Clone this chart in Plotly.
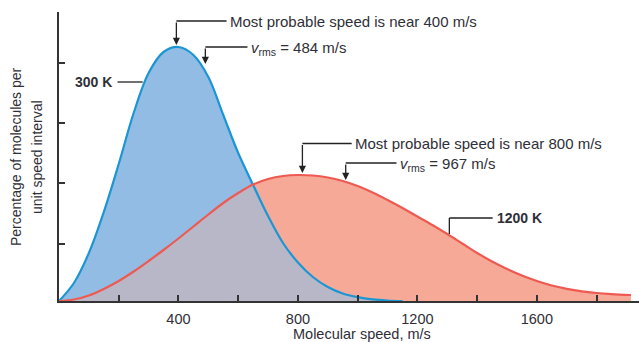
import numpy as np
import plotly.graph_objects as go

# ---- data (arbitrary percentage units) ----
speed_300 = [0, 50, 100, 150, 200, 250, 300, 350, 400, 450, 500, 550, 600, 650,
             700, 750, 800, 850, 900, 950, 1000, 1050, 1100, 1150]
pct_300 = [0, 18, 48, 89, 137, 188, 228, 249, 254, 246, 224, 186, 148, 116,
           85, 58, 38.5, 24, 14, 7.5, 3.8, 1.6, 0.5, 0]

speed_1200 = [0, 50, 100, 150, 200, 250, 300, 350, 400, 450, 500, 550, 600, 650,
              700, 750, 800, 850, 900, 950, 1000, 1050, 1100, 1150, 1200, 1250,
              1300, 1350, 1400, 1450, 1500, 1550, 1600, 1650, 1700, 1750, 1800,
              1850, 1915]
pct_1200 = [0, 1.5, 5.5, 12, 20, 29.5, 40, 51, 62.5, 74.5, 86.5, 98, 108, 116.5,
            122, 125, 126, 125.5, 123.5, 120, 115, 108.5, 101, 93, 84.5, 76,
            67, 57.5, 48, 39.5, 32, 25.5, 20, 15.5, 12.2, 9.7, 8,
            6.9, 6]

x_tick_vals = [200, 400, 600, 800, 1000, 1200, 1400, 1600, 1800]
x_tick_text = ["", "400", "", "800", "", "1200", "", "1600", ""]
y_tick_vals = [57, 118, 178, 238.5]

# overlap region = lower of the two curves
sp = np.array(speed_1200, dtype=float)
blue_on_grid = np.interp(sp, speed_300, pct_300, right=0.0)
overlap = np.minimum(blue_on_grid, np.array(pct_1200, dtype=float))

FONT = "Liberation Sans, Arial, sans-serif"
TXT = "#2f2f38"
BLUE_FILL = "#93bce4"
BLUE_LINE = "#1c96d3"
RED_FILL = "#f6a996"
RED_LINE = "#ee5a52"
GRAY_FILL = "#b8b7c8"

fig = go.Figure()
fig.add_trace(go.Scatter(x=speed_1200, y=pct_1200, mode="lines", fill="tozeroy",
                         fillcolor=RED_FILL, line=dict(width=0, shape="spline"),
                         hoverinfo="skip"))
fig.add_trace(go.Scatter(x=speed_300, y=pct_300, mode="lines", fill="tozeroy",
                         fillcolor=BLUE_FILL, line=dict(width=0, shape="spline"),
                         hoverinfo="skip"))
fig.add_trace(go.Scatter(x=speed_1200, y=overlap, mode="lines", fill="tozeroy",
                         fillcolor=GRAY_FILL, line=dict(width=0, shape="spline"),
                         hoverinfo="skip"))
fig.add_trace(go.Scatter(x=speed_300, y=pct_300, mode="lines",
                         line=dict(width=2.2, color=BLUE_LINE, shape="spline")))
fig.add_trace(go.Scatter(x=speed_1200, y=pct_1200, mode="lines",
                         line=dict(width=2.2, color=RED_LINE, shape="spline")))

LC = "#222222"
shapes = []
annotations = []


def hline(x0, x1, y):
    shapes.append(dict(type="line", xref="x", yref="y", x0=x0, x1=x1, y0=y, y1=y,
                       line=dict(color=LC, width=1.3)))


def vline(x, y0, y1):
    shapes.append(dict(type="line", xref="x", yref="y", x0=x, x1=x, y0=y0, y1=y1,
                       line=dict(color=LC, width=1.3)))


def arrow_down(x, y_from, y_to):
    annotations.append(dict(x=x, y=y_to, ax=x, ay=y_from, axref="x", ayref="y",
                            xref="x", yref="y", text="", showarrow=True,
                            arrowhead=2, arrowsize=1.1, arrowwidth=1.3,
                            arrowcolor=LC, standoff=0, startstandoff=0))


def label(x, y, text, anchor="left", size=15, bold=False):
    annotations.append(dict(x=x, y=y, xref="x", yref="y", text=("<b>%s</b>" % text) if bold else text,
                            showarrow=False, xanchor=anchor, yanchor="middle",
                            font=dict(family=FONT, size=size, color=TXT)))


# 300 K group
hline(393, 561, 280)
arrow_down(393, 280, 256)
label(565, 280, "Most probable speed is near 400 m/s")
hline(490, 631, 254)
arrow_down(490, 254, 237)
label(637, 253, "<i>v</i><sub>rms</sub> = 484 m/s")
hline(196, 280, 219)
label(184, 219, "300 K", anchor="right", size=14, bold=True)

# 1200 K group
hline(815, 980, 157.5)
arrow_down(815, 157.5, 128)
label(984, 157.5, "Most probable speed is near 800 m/s")
hline(960, 1130, 138)
arrow_down(960, 138, 121)
label(1134, 137, "<i>v</i><sub>rms</sub> = 967 m/s")
hline(1307, 1452, 83)
vline(1307, 83, 67)
label(1460, 83, "1200 K", size=14, bold=True)

# axis titles
annotations.append(dict(xref="paper", yref="y", x=0, y=144, xshift=-43,
                        text="Percentage of molecules per", textangle=-90,
                        showarrow=False, xanchor="center", yanchor="middle",
                        font=dict(family=FONT, size=14, color=TXT)))
annotations.append(dict(xref="paper", yref="y", x=0, y=144, xshift=-22,
                        text="unit speed interval", textangle=-90,
                        showarrow=False, xanchor="center", yanchor="middle",
                        font=dict(family=FONT, size=14, color=TXT)))
annotations.append(dict(xref="x", yref="paper", x=1016, y=0, yshift=-33,
                        text="Molecular speed, m/s", showarrow=False,
                        xanchor="center", yanchor="middle",
                        font=dict(family=FONT, size=14.5, color=TXT)))

fig.update_layout(
    width=639, height=342,
    margin=dict(l=59, r=0, t=12, b=41),
    paper_bgcolor="white", plot_bgcolor="white",
    showlegend=False,
    shapes=shapes, annotations=annotations,
    xaxis=dict(range=[0, 1942], showgrid=False, zeroline=False,
               showline=True, linecolor="#333333", linewidth=1.6,
               ticks="inside", ticklen=6, tickwidth=1.5, tickcolor="#333333",
               tickvals=x_tick_vals, ticktext=x_tick_text,
               tickfont=dict(family=FONT, size=14.5, color=TXT),
               ticklabelstandoff=4),
    yaxis=dict(range=[0, 289], showgrid=False, zeroline=False,
               showline=True, linecolor="#333333", linewidth=1.6,
               ticks="inside", ticklen=6, tickwidth=1.5, tickcolor="#333333",
               tickvals=y_tick_vals, showticklabels=False),
)

fig.write_html("out.html")
